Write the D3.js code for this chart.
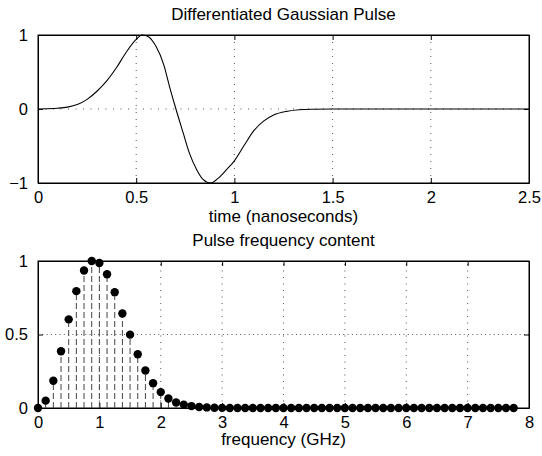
<!DOCTYPE html>
<html lang="en">
<head>
  <meta charset="UTF-8">
  <title>Differentiated Gaussian Pulse</title>
  <script src="https://d3js.org/d3.v7.min.js"></script>
  <style>
    body {
      margin: 0;
      background: #fff;
      font-family: "Liberation Sans", Arial, sans-serif;
    }
    text { font-size: 17px; fill: #000; }
    .grid line { stroke: #555; stroke-width: 1; }
  </style>
</head>
<body>
  <script>
    // pulse (time in ns, amplitude)
    const pulseTime = [0, 0.05, 0.10, 0.15, 0.20, 0.25, 0.30, 0.35, 0.40, 0.45, 0.50, 0.53, 0.56, 0.60, 0.64, 0.67, 0.70,
                       0.74, 0.77, 0.81, 0.84, 0.88, 0.92, 0.96, 1.00, 1.05, 1.10, 1.15, 1.20, 1.27, 1.33, 1.40, 1.50, 2.50];
    const pulseValue = [0, 0.003, 0.01, 0.025, 0.06, 0.13, 0.24, 0.38, 0.56, 0.77, 0.94, 1.0, 0.98, 0.85, 0.60, 0.30, 0.02,
                        -0.33, -0.59, -0.83, -0.95, -1.0, -0.93, -0.82, -0.70, -0.49, -0.29, -0.16, -0.08, -0.03, -0.01, -0.003, 0, 0];

    // spectrum, 0.125 GHz steps from 0 to 7.75
    const freqStep = 0.125;
    const spectrum = [0, 0.05, 0.185, 0.386, 0.603, 0.795, 0.935, 1.0, 0.986, 0.91, 0.788, 0.643, 0.499, 0.366, 0.255,
                      0.169, 0.108, 0.065, 0.038, 0.023, 0.013, 0.007, 0.004, 0.002, 0.001,
                      0, 0, 0, 0, 0, 0, 0, 0, 0, 0, 0, 0, 0, 0, 0, 0, 0, 0, 0, 0, 0, 0, 0, 0, 0, 0, 0, 0, 0, 0,
                      0, 0, 0, 0, 0, 0, 0, 0];

    const topXTicks = [0, 0.5, 1, 1.5, 2, 2.5];
    const topYTicks = [-1, 0, 1];
    const botXTicks = [0, 1, 2, 3, 4, 5, 6, 7, 8];
    const botYTicks = [0, 0.5, 1];

    const W = 542, H = 456;
    const svg = d3.select("body").append("svg")
      .attr("width", W).attr("height", H);

    const fmt = d => d < 0 ? "\u2212" + Math.abs(d) : String(d);

    function panel(cfg) {
      const { x, y, xTicks, yTicks, title, xlabel, top, bottom, dash } = cfg;
      const g = svg.append("g");
      const [x0, x1] = x.range(), [y0, y1] = y.range();

      // grid
      const grid = g.append("g").attr("class", "grid");
      grid.selectAll(".gx").data(xTicks.slice(1, -1)).join("line")
        .attr("x1", d => x(d)).attr("x2", d => x(d))
        .attr("y1", y0).attr("y2", y1)
        .attr("stroke-dasharray", dash[0]);
      grid.selectAll(".gy").data(yTicks.slice(1, -1)).join("line")
        .attr("y1", d => y(d)).attr("y2", d => y(d))
        .attr("x1", x0).attr("x2", x1)
        .attr("stroke-dasharray", dash[1]);

      // axes with inward ticks on all sides
      g.append("g").attr("transform", `translate(0,${y0})`)
        .call(d3.axisBottom(x).tickValues(xTicks).tickSizeInner(-5).tickSizeOuter(0).tickPadding(8).tickFormat(fmt));
      g.append("g").attr("transform", `translate(0,${y1})`)
        .call(d3.axisTop(x).tickValues(xTicks).tickSizeInner(-5).tickSizeOuter(0).tickFormat(""));
      g.append("g").attr("transform", `translate(${x0},0)`)
        .call(d3.axisLeft(y).tickValues(yTicks).tickSizeInner(-5).tickSizeOuter(0).tickPadding(10).tickFormat(fmt));
      g.append("g").attr("transform", `translate(${x1},0)`)
        .call(d3.axisRight(y).tickValues(yTicks).tickSizeInner(-5).tickSizeOuter(0).tickFormat(""));
      g.selectAll(".domain, .tick line").attr("stroke", "#000");
      g.selectAll(".tick text").style("font-size", "16.5px").attr("font-family", null);

      g.append("rect")
        .attr("x", x0).attr("y", y1).attr("width", x1 - x0).attr("height", y0 - y1)
        .attr("fill", "none").attr("stroke", "#000");

      g.append("text").attr("x", (x0 + x1) / 2).attr("y", top)
        .attr("text-anchor", "middle").text(title);
      g.append("text").attr("x", (x0 + x1) / 2).attr("y", bottom)
        .attr("text-anchor", "middle").text(xlabel);
      return g;
    }

    // top: pulse
    const xt = d3.scaleLinear().domain([0, 2.5]).range([38, 529]);
    const yt = d3.scaleLinear().domain([-1, 1]).range([183, 35]);
    const gt = panel({ x: xt, y: yt, xTicks: topXTicks, yTicks: topYTicks,
      title: "Differentiated Gaussian Pulse", xlabel: "time (nanoseconds)", top: 20, bottom: 222,
      dash: ["1,6", "1,6.5"] });

    const pulse = pulseTime.map((t, i) => [t, pulseValue[i]]);
    gt.append("path").datum(pulse)
      .attr("fill", "none").attr("stroke", "#000").attr("stroke-width", 1.1)
      .attr("d", d3.line().x(d => xt(d[0])).y(d => yt(d[1])).curve(d3.curveMonotoneX));

    // bottom: spectrum stems
    const xb = d3.scaleLinear().domain([0, 8]).range([38, 529]);
    const yb = d3.scaleLinear().domain([0, 1]).range([408, 261]);
    const gb = panel({ x: xb, y: yb, xTicks: botXTicks, yTicks: botYTicks,
      title: "Pulse frequency content", xlabel: "frequency (GHz)", top: 246, bottom: 445,
      dash: ["1,5.5", "1,3.3"] });

    const spec = spectrum.map((v, i) => [i * freqStep, v]);
    gb.append("g").selectAll("line").data(spec).join("line")
      .attr("x1", d => xb(d[0])).attr("x2", d => xb(d[0]))
      .attr("y1", yb(0)).attr("y2", d => yb(d[1]))
      .attr("stroke", "#444").attr("stroke-width", 1)
      .attr("stroke-dasharray", "6,3");
    gb.append("g").selectAll("circle").data(spec).join("circle")
      .attr("cx", d => xb(d[0])).attr("cy", d => yb(d[1]))
      .attr("r", 4.2).attr("fill", "#000");
  </script>
</body>
</html>
